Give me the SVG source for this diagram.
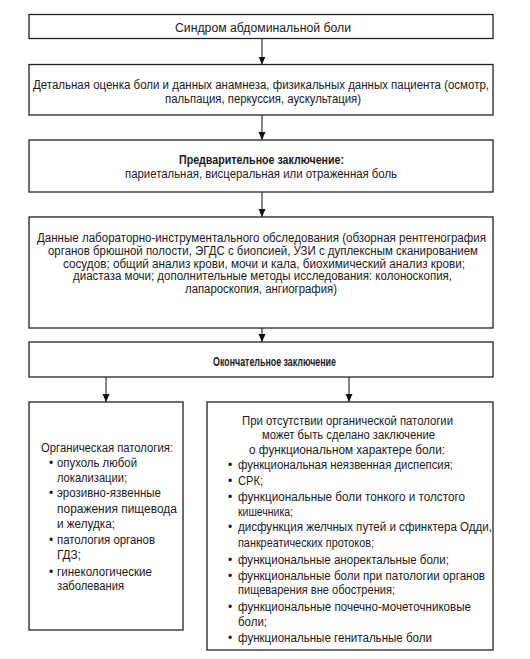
<svg xmlns="http://www.w3.org/2000/svg" width="530" height="659" viewBox="0 0 530 659">
<style>
.box{fill:#fff;stroke:#222;stroke-width:1.3}
.t{font-family:"Liberation Sans",Arial,sans-serif;font-size:12px;fill:#1a1a1a}
.b{font-weight:bold}
.m{text-anchor:middle}
.c{stroke:#333;stroke-width:1.2;fill:none}
</style>
<defs>
<marker id="ah" markerUnits="userSpaceOnUse" markerWidth="8" markerHeight="9" refX="8" refY="4" orient="auto">
<path d="M0,0.5 L8,4 L0,7.5 z" fill="#111"/>
</marker>
</defs>
<rect width="530" height="659" fill="#fff"/>
<g id="connectors">
<line class="c" x1="262" y1="38.5" x2="262" y2="64.5" marker-end="url(#ah)"/>
<line class="c" x1="262" y1="115" x2="262" y2="140" marker-end="url(#ah)"/>
<line class="c" x1="262" y1="192" x2="262" y2="217" marker-end="url(#ah)"/>
<line class="c" x1="262" y1="328" x2="262" y2="342" marker-end="url(#ah)"/>
<line class="c" x1="106" y1="377" x2="106" y2="402" marker-end="url(#ah)"/>
<line class="c" x1="349" y1="377" x2="349" y2="402" marker-end="url(#ah)"/>
</g>
<g id="n1">
<rect class="box" x="29" y="14.5" width="464" height="24"/>
<text class="t" x="175" y="32" textLength="176" lengthAdjust="spacingAndGlyphs">Синдром абдоминальной боли</text>
</g>
<g id="n2">
<rect class="box" x="29" y="64.5" width="464" height="50.5"/>
<text class="t" x="33" y="89" textLength="456" lengthAdjust="spacingAndGlyphs">Детальная оценка боли и данных анамнеза, физикальных данных пациента (осмотр,</text>
<text class="t" x="165" y="103" textLength="196" lengthAdjust="spacingAndGlyphs">пальпация, перкуссия, аускультация)</text>
</g>
<g id="n3">
<rect class="box" x="29" y="140" width="464" height="52"/>
<text class="t b" x="179" y="164" textLength="165" lengthAdjust="spacingAndGlyphs">Предварительное заключение:</text>
<text class="t" x="125" y="178" textLength="272" lengthAdjust="spacingAndGlyphs">париетальная, висцеральная или отраженная боль</text>
</g>
<g id="n4">
<rect class="box" x="29" y="217" width="464" height="111"/>
<text class="t" x="37" y="242" textLength="449" lengthAdjust="spacingAndGlyphs">Данные лабораторно-инструментального обследования (обзорная рентгенография</text>
<text class="t" x="48" y="255" textLength="430" lengthAdjust="spacingAndGlyphs">органов брюшной полости, ЭГДС с биопсией, УЗИ с дуплексным сканированием</text>
<text class="t" x="63" y="267.5" textLength="402" lengthAdjust="spacingAndGlyphs">сосудов; общий анализ крови, мочи и кала, биохимический анализ крови;</text>
<text class="t" x="73" y="280" textLength="379" lengthAdjust="spacingAndGlyphs">диастаза мочи; дополнительные методы исследования: колоноскопия,</text>
<text class="t" x="185" y="292.5" textLength="152" lengthAdjust="spacingAndGlyphs">лапароскопия, ангиография)</text>
</g>
<g id="n5">
<rect class="box" x="29" y="342" width="464" height="35"/>
<text class="t b" x="213" y="366" textLength="123" lengthAdjust="spacingAndGlyphs">Окончательное заключение</text>
</g>
<g id="n6">
<rect class="box" x="29" y="402" width="154" height="228"/>
<text class="t" x="41" y="452" textLength="132" lengthAdjust="spacingAndGlyphs">Органическая патология:</text>
<text class="t" x="49" y="467">•</text>
<text class="t" x="57" y="467" textLength="80" lengthAdjust="spacingAndGlyphs">опухоль любой</text>
<text class="t" x="57" y="482" textLength="70" lengthAdjust="spacingAndGlyphs">локализации;</text>
<text class="t" x="49" y="497">•</text>
<text class="t" x="57" y="497" textLength="104" lengthAdjust="spacingAndGlyphs">эрозивно-язвенные</text>
<text class="t" x="57" y="513" textLength="120" lengthAdjust="spacingAndGlyphs">поражения пищевода</text>
<text class="t" x="57" y="528" textLength="58" lengthAdjust="spacingAndGlyphs">и желудка;</text>
<text class="t" x="49" y="544">•</text>
<text class="t" x="57" y="544" textLength="98" lengthAdjust="spacingAndGlyphs">патология органов</text>
<text class="t" x="57" y="559" textLength="24" lengthAdjust="spacingAndGlyphs">ГДЗ;</text>
<text class="t" x="49" y="576">•</text>
<text class="t" x="57" y="576" textLength="95" lengthAdjust="spacingAndGlyphs">гинекологические</text>
<text class="t" x="57" y="590" textLength="67" lengthAdjust="spacingAndGlyphs">заболевания</text>
</g>
<g id="n7">
<rect class="box" x="207" y="402" width="286" height="248"/>
<text class="t m" x="347.5" y="425" textLength="211" lengthAdjust="spacingAndGlyphs">При отсутствии органической патологии</text>
<text class="t m" x="348.5" y="439" textLength="173" lengthAdjust="spacingAndGlyphs">может быть сделано заключение</text>
<text class="t m" x="347" y="454" textLength="196" lengthAdjust="spacingAndGlyphs">о функциональном характере боли:</text>
<text class="t" x="228" y="469">•</text>
<text class="t" x="238" y="469" textLength="215" lengthAdjust="spacingAndGlyphs">функциональная неязвенная диспепсия;</text>
<text class="t" x="228" y="485">•</text>
<text class="t" x="238" y="485" textLength="25" lengthAdjust="spacingAndGlyphs">СРК;</text>
<text class="t" x="228" y="501">•</text>
<text class="t" x="238" y="501" textLength="227" lengthAdjust="spacingAndGlyphs">функциональные боли тонкого и толстого</text>
<text class="t" x="238" y="516" textLength="55" lengthAdjust="spacingAndGlyphs">кишечника;</text>
<text class="t" x="228" y="531">•</text>
<text class="t" x="238" y="531" textLength="254" lengthAdjust="spacingAndGlyphs">дисфункция желчных путей и сфинктера Одди,</text>
<text class="t" x="238" y="546.5" textLength="136" lengthAdjust="spacingAndGlyphs">панкреатических протоков;</text>
<text class="t" x="228" y="564">•</text>
<text class="t" x="238" y="564" textLength="211" lengthAdjust="spacingAndGlyphs">функциональные аноректальные боли;</text>
<text class="t" x="228" y="579.5">•</text>
<text class="t" x="238" y="579.5" textLength="247" lengthAdjust="spacingAndGlyphs">функциональные боли при патологии органов</text>
<text class="t" x="238" y="593.5" textLength="157" lengthAdjust="spacingAndGlyphs">пищеварения вне обострения;</text>
<text class="t" x="228" y="610.5">•</text>
<text class="t" x="238" y="610.5" textLength="233" lengthAdjust="spacingAndGlyphs">функциональные почечно-мочеточниковые</text>
<text class="t" x="238" y="626" textLength="29" lengthAdjust="spacingAndGlyphs">боли;</text>
<text class="t" x="228" y="641.5">•</text>
<text class="t" x="238" y="641.5" textLength="194" lengthAdjust="spacingAndGlyphs">функциональные генитальные боли</text>
</g>
</svg>
